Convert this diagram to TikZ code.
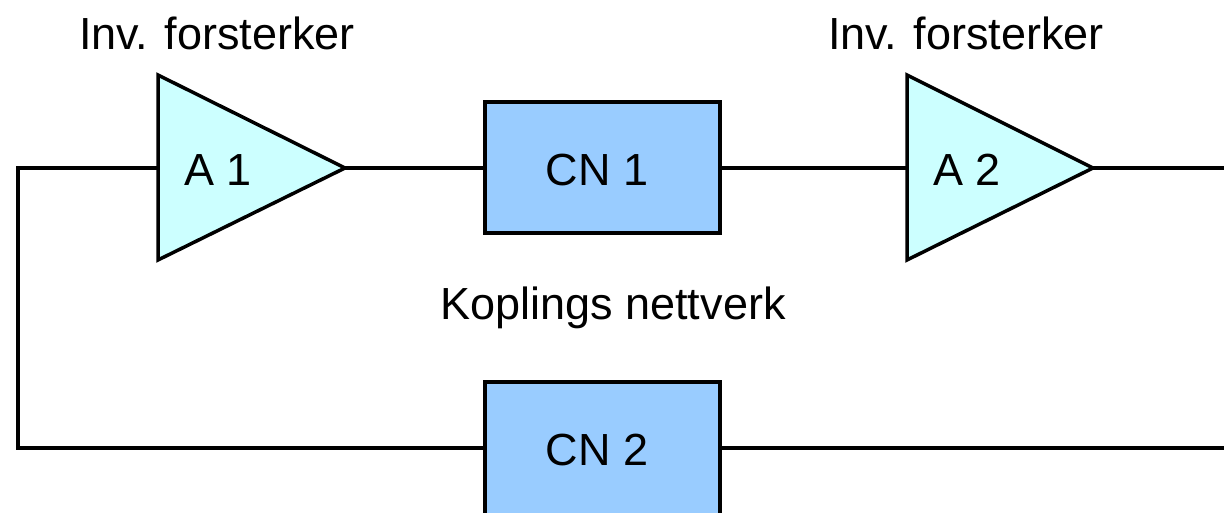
\documentclass[tikz,border=0pt]{standalone}
\usepackage{fontspec}
\setmainfont{Liberation Sans}
\begin{document}
\begin{tikzpicture}[x=1pt,y=-1pt,
  wire/.style={line width=3.5pt},
  amp/.style={draw, line width=3.5pt, fill=ampfill, line join=miter},
  cnbox/.style={draw, line width=3.5pt, fill=boxfill},
  lbl/.style={font=\fontsize{45}{54}\selectfont, inner sep=0pt}]
\definecolor{ampfill}{HTML}{CCFFFF}
\definecolor{boxfill}{HTML}{99CCFF}
\useasboundingbox (0,0) rectangle (1224,513);
% amplifiers
\draw[amp] (158,75) -- (345,168) -- (158,260) -- cycle;
\draw[amp] (907,75) -- (1093,168) -- (907,260) -- cycle;
\coordinate (a1in) at (158,168);
\coordinate (a1out) at (345,168);
\coordinate (a2in) at (907,168);
\coordinate (a2out) at (1093,168);
% boxes
\draw[cnbox] (485,102) rectangle (720,233);
\coordinate (cn1w) at (485,168);
\coordinate (cn1e) at (720,168);
\draw[cnbox] (485,382) rectangle (720,518);
\coordinate (cn2w) at (485,448);
\coordinate (cn2e) at (720,448);
\coordinate (ltop) at (18,168);
\coordinate (lbot) at (18,448);
\coordinate (rtop) at (1226,168);
\coordinate (rbot) at (1226,448);
% wires
\draw[wire] (a1in) -- (ltop) -- (lbot) -- (cn2w);
\draw[wire] (a1out) -- (cn1w);
\draw[wire] (cn1e) -- (a2in);
\draw[wire] (a2out) -- (rtop);
\draw[wire] (cn2e) -- (rbot);
% labels
\node[lbl] (t1) at (217,33) {Inv. forsterker};
\node[lbl] (t2) at (966,33) {Inv. forsterker};
\node[lbl] (k) at (613,308) {Koplings nettverk};
\node[lbl] (la1) at (218,170) {A 1};
\node[lbl] (la2) at (967,170) {A 2};
\node[lbl] (lc1) at (597,170) {CN 1};
\node[lbl] (lc2) at (597,450) {CN 2};
\end{tikzpicture}
\end{document}
